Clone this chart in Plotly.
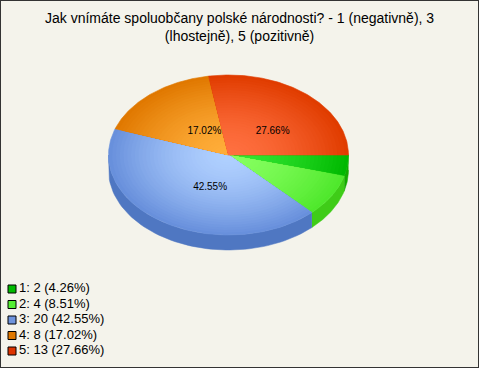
import numpy as np
import plotly.graph_objects as go

# ---- data ----
categories = ["1", "2", "3", "4", "5"]
counts = [2, 4, 20, 8, 13]
percent_labels = ["4.26%", "8.51%", "42.55%", "17.02%", "27.66%"]
title_text = "Jak vnímáte spoluobčany polské národnosti? - 1 (negativně), 3<br>(lhostejně), 5 (pozitivně)"

# ---- styles ----
edge_colors = ["#00b800", "#4fe82c", "#6890dc", "#e07800", "#e03c00"]
center_colors = ["#33e633", "#86ff60", "#b0d0ff", "#ffae3a", "#ff7040"]
side_colors = ["#14aa00", "#3fcc18", "#4f77c2", "#c06400", "#bb3000"]
legend_colors = ["#00bb00", "#55ee33", "#6f94dd", "#e07800", "#dd3300"]
BG = "#f4f3eb"
FONT = "Liberation Sans, Arial, sans-serif"

W, H = 479, 368
CX, CY, RX, RY, DEPTH = 228.5, 155, 120, 80, 15
LCX, LCY, LF = 238.5, 158, 0.44
LEG_X, LEG_TOP, LEG_STEP = 12, 289, 15.5
N_RINGS = 32
GAMMA = 1.6


def hex2rgb(h):
    h = h.lstrip("#")
    return np.array([int(h[i:i + 2], 16) for i in (0, 2, 4)], dtype=float)


def mix(c_edge, c_center, t):
    c = hex2rgb(c_edge) * t + hex2rgb(c_center) * (1 - t)
    return "rgb(%d,%d,%d)" % tuple(np.round(c).astype(int))


total = sum(counts)
fracs = [c / total for c in counts]
cum = np.concatenate([[0], np.cumsum(fracs)]) * 360.0

fig = go.Figure()

# side walls (front half only)
for i in range(len(counts)):
    a0, a1 = max(cum[i], 0), min(cum[i + 1], 180)
    if a1 <= a0:
        continue
    th = np.radians(np.linspace(a0, a1, 60))
    xt = CX + RX * np.cos(th)
    yt = CY + RY * np.sin(th)
    xs = np.concatenate([xt, xt[::-1]])
    ys = np.concatenate([yt, (yt + DEPTH)[::-1]])
    fig.add_trace(go.Scatter(x=xs, y=ys, fill="toself", mode="lines",
                             line=dict(width=0.5, color=side_colors[i]),
                             fillcolor=side_colors[i], hoverinfo="skip", showlegend=False))

# top faces with radial shading
for i in range(len(counts)):
    th = np.radians(np.linspace(cum[i], cum[i + 1], 120))
    for k in range(N_RINGS):
        s = 1 - k / N_RINGS
        xs = np.concatenate([[CX], CX + s * RX * np.cos(th), [CX]])
        ys = np.concatenate([[CY], CY + s * RY * np.sin(th), [CY]])
        col = mix(edge_colors[i], center_colors[i], s ** GAMMA)
        fig.add_trace(go.Scatter(x=xs, y=ys, fill="toself", mode="lines",
                                 line=dict(width=0.6 if k == 0 else 0, color=col),
                                 fillcolor=col, hoverinfo="skip", showlegend=False))

# percentage labels
lx, ly, lt = [], [], []
for i in range(len(counts)):
    if fracs[i] < 0.1:
        continue
    mid = np.radians((cum[i] + cum[i + 1]) / 2)
    lx.append(LCX + LF * RX * np.cos(mid))
    ly.append(LCY + LF * RY * np.sin(mid))
    lt.append(percent_labels[i])
fig.add_trace(go.Scatter(x=lx, y=ly, text=lt, mode="text",
                         textfont=dict(family=FONT, size=10, color="black"),
                         hoverinfo="skip", showlegend=False))

# legend
idx = np.arange(len(categories))
leg_y = LEG_TOP + idx * LEG_STEP
fig.add_trace(go.Scatter(x=[LEG_X] * len(categories), y=leg_y, mode="markers",
                         marker=dict(symbol="square", size=8, color=legend_colors,
                                     line=dict(color="black", width=1)),
                         hoverinfo="skip", showlegend=False))
fig.add_trace(go.Scatter(x=[LEG_X + 7] * len(categories), y=leg_y, mode="text",
                         text=["%s: %d (%s)" % (c, n, p) for c, n, p in zip(categories, counts, percent_labels)],
                         textposition="middle right",
                         textfont=dict(family=FONT, size=13, color="black"),
                         hoverinfo="skip", showlegend=False))

fig.update_layout(
    width=W, height=H, margin=dict(l=0, r=0, t=0, b=0),
    paper_bgcolor=BG, plot_bgcolor=BG,
    xaxis=dict(range=[0, W], visible=False, fixedrange=True),
    yaxis=dict(range=[H, 0], visible=False, fixedrange=True),
    annotations=[dict(text=title_text, xref="paper", yref="paper", x=0.5, y=1 - 8 / H,
                      xanchor="center", yanchor="top", showarrow=False, align="center",
                      font=dict(family=FONT, size=14, color="black"))],
    shapes=[dict(type="rect", xref="paper", yref="paper", x0=0, y0=0, x1=1, y1=1,
                 line=dict(color="#333333", width=2))],
    showlegend=False,
)

fig.write_html("out.html", config=dict(displayModeBar=False),
               post_script="document.body.style.margin='0';document.body.style.overflow='hidden';")
